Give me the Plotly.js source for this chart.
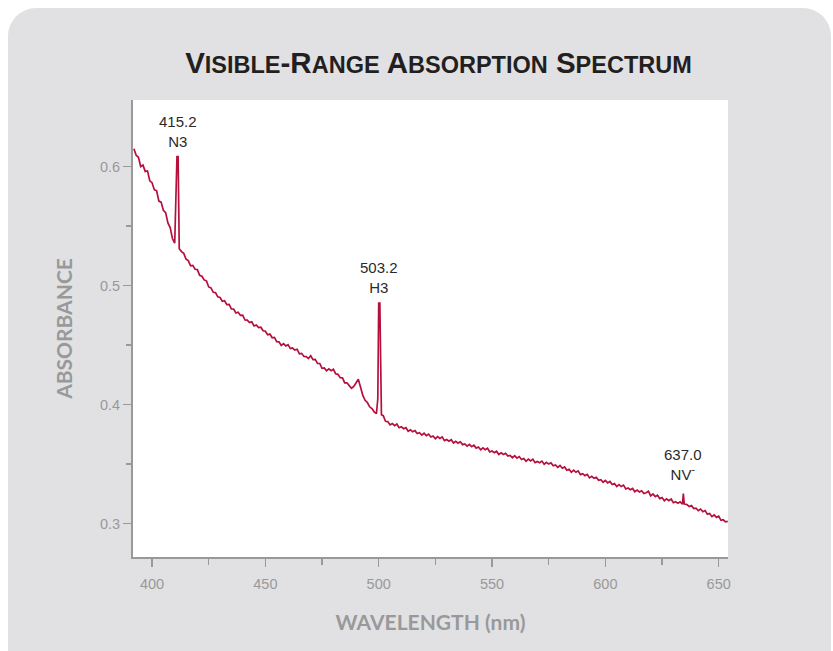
<!DOCTYPE html>
<html>
<head>
<meta charset="utf-8">
<script src="https://cdn.plot.ly/plotly-3.0.1.min.js"></script>
<style>
  html, body { margin: 0; padding: 0; background: #ffffff; overflow: hidden; }
  #card { position: absolute; left: 8px; top: 8px; width: 823px; height: 700px; background: #e1e1e3; border-radius: 28px; }
  #chart { position: absolute; left: 0; top: 0; width: 833px; height: 651px; }
</style>
</head>
<body>
<div id="card"></div>
<div id="chart"></div>
<script>
// Wavelength (nm) as drawn on the chart axis
const wavelength = [
  392,393,394,395,396,397,398,399,400,401,
  402,403,404,405,406,407,408,409,410,411.0,
  411.5,412,413,414,415,416,417,418,419,420,
  421,422,423,424,425,426,427,428,429,430,
  431,432,433,434,435,436,437,438,439,440,
  441,442,443,444,445,446,447,448,449,450,
  451,452,453,454,455,456,457,458,459,460,
  461,462,463,464,465,466,467,468,469,470,
  471,472,473,474,475,476,477,478,479,480,
  481,482,483,484,485,486,487,488,489,490,
  491,492,493,494,495,496,497,498,499,499.6,
  500.0,500.5,501.2,502,503,504,505,506,507,508,
  509,510,511,512,513,514,515,516,517,518,
  519,520,521,522,523,524,525,526,527,528,
  529,530,531,532,533,534,535,536,537,538,
  539,540,541,542,543,544,545,546,547,548,
  549,550,551,552,553,554,555,556,557,558,
  559,560,561,562,563,564,565,566,567,568,
  569,570,571,572,573,574,575,576,577,578,
  579,580,581,582,583,584,585,586,587,588,
  589,590,591,592,593,594,595,596,597,598,
  599,600,601,602,603,604,605,606,607,608,
  609,610,611,612,613,614,615,616,617,618,
  619,620,621,622,623,624,625,626,627,628,
  629,630,631,632,633,634,634.4,634.8,636,637,
  638,639,640,641,642,643,644,645,646,647,
  648,649,650,651,652,653,654
];

// Absorbance
const absorbance = [
  0.6150,0.6095,0.6079,0.6001,0.6013,0.5960,0.5964,0.5881,0.5865,0.5806,
  0.5798,0.5711,0.5702,0.5633,0.5614,0.5527,0.5488,0.5396,0.5357,0.6084,
  0.6084,0.5310,0.5286,0.5271,0.5223,0.5210,0.5167,0.5170,0.5138,0.5135,
  0.5087,0.5079,0.5048,0.5040,0.4989,0.4981,0.4944,0.4942,0.4906,0.4901,
  0.4869,0.4873,0.4841,0.4842,0.4805,0.4804,0.4770,0.4776,0.4750,0.4752,
  0.4711,0.4710,0.4690,0.4696,0.4661,0.4669,0.4648,0.4651,0.4621,0.4617,
  0.4587,0.4593,0.4562,0.4565,0.4529,0.4528,0.4498,0.4513,0.4494,0.4504,
  0.4471,0.4476,0.4459,0.4466,0.4427,0.4431,0.4405,0.4404,0.4387,0.4411,
  0.4379,0.4381,0.4347,0.4346,0.4306,0.4309,0.4284,0.4301,0.4285,0.4297,
  0.4260,0.4255,0.4227,0.4225,0.4183,0.4184,0.4160,0.4138,0.4153,0.4180,
  0.4214,0.4146,0.4078,0.4037,0.4018,0.3982,0.3967,0.3940,0.3924,0.4050,
  0.4853,0.4853,0.3915,0.3907,0.3860,0.3858,0.3830,0.3842,0.3824,0.3837,
  0.3806,0.3814,0.3798,0.3807,0.3777,0.3789,0.3772,0.3782,0.3758,0.3764,
  0.3744,0.3760,0.3740,0.3753,0.3728,0.3737,0.3714,0.3731,0.3716,0.3729,
  0.3698,0.3707,0.3693,0.3705,0.3678,0.3692,0.3677,0.3688,0.3664,0.3670,
  0.3651,0.3667,0.3647,0.3660,0.3635,0.3644,0.3620,0.3637,0.3621,0.3634,
  0.3603,0.3611,0.3597,0.3609,0.3581,0.3595,0.3581,0.3591,0.3568,0.3574,
  0.3554,0.3571,0.3551,0.3564,0.3539,0.3548,0.3524,0.3542,0.3527,0.3542,
  0.3513,0.3523,0.3512,0.3526,0.3500,0.3516,0.3501,0.3511,0.3487,0.3493,
  0.3473,0.3489,0.3466,0.3477,0.3449,0.3457,0.3432,0.3449,0.3432,0.3444,
  0.3412,0.3420,0.3404,0.3415,0.3385,0.3398,0.3381,0.3390,0.3364,0.3369,
  0.3348,0.3364,0.3343,0.3355,0.3329,0.3337,0.3312,0.3329,0.3312,0.3324,
  0.3292,0.3300,0.3285,0.3296,0.3268,0.3282,0.3267,0.3277,0.3254,0.3260,
  0.3272,0.3234,0.3249,0.3227,0.3239,0.3211,0.3219,0.3193,0.3209,0.3193,
  0.3207,0.3176,0.3184,0.3171,0.3183,0.3163,0.3252,0.3165,0.3161,0.3144,
  0.3152,0.3127,0.3131,0.3109,0.3123,0.3100,0.3110,0.3080,0.3086,0.3059,
  0.3073,0.3053,0.3063,0.3028,0.3033,0.3016,0.3020
];

// Peak labels
const peakLabels = ['415.2<br>N3', '503.2<br>H3', '637.0<br>NV<sup>-</sup>'];
const peakX = [411.25, 500.25, 634.4];
const peakY = [0.6084, 0.4853, 0.3252];

// Axis ticks
const xTicks = [400, 450, 500, 550, 600, 650];
const xMinorTicks = [425, 475, 525, 575, 625];
const yTicks = [0.3, 0.4, 0.5, 0.6];
const yMinorTicks = [0.35, 0.45, 0.55];

const sc = s => '<span style="font-size:23.5px">' + s + '</span>';
const titleText = 'V' + sc('ISIBLE') + '-R' + sc('ANGE') + ' A' + sc('BSORPTION') + ' S' + sc('PECTRUM');

const trace = {
  x: wavelength,
  y: absorbance,
  type: 'scatter',
  mode: 'lines',
  line: { color: '#b5103c', width: 1.7 },
  hoverinfo: 'skip'
};

const labelShift = [5, 5, 9];
const annotations = peakLabels.map((t, i) => ({
  x: peakX[i], y: peakY[i], xref: 'x', yref: 'y',
  text: t, showarrow: false, xanchor: 'center', yanchor: 'bottom', yshift: labelShift[i],
  font: { family: 'Liberation Sans, Arial, sans-serif', size: 15, color: '#2a2a2a' }
}));

const layout = {
  width: 833, height: 651,
  paper_bgcolor: 'rgba(0,0,0,0)',
  plot_bgcolor: '#ffffff',
  margin: { l: 133, r: 105, t: 100, b: 94 },
  showlegend: false,
  title: {
    text: titleText,
    x: 0.5134, xanchor: 'center', xref: 'paper',
    y: 1 - 63 / 651, yanchor: 'middle',
    font: { family: 'Liberation Sans, Arial, sans-serif', size: 29.5, color: '#231f20', weight: 'bold' }
  },
  xaxis: {
    range: [391.6, 654.1],
    tickvals: xTicks,
    ticks: 'outside', ticklen: 8, tickwidth: 1.5, tickcolor: '#999999',
    ticklabelstandoff: 5,
    minor: { tickvals: xMinorTicks, ticks: 'outside', ticklen: 6, tickwidth: 1.5, tickcolor: '#999999', showgrid: false },
    showline: true, linecolor: '#999999', linewidth: 2,
    showgrid: false, zeroline: false,
    tickfont: { family: 'Liberation Sans, Arial, sans-serif', size: 14.5, color: '#999999' },
    title: { text: 'WAVELENGTH (nm)', standoff: 24,
      font: { family: 'Lato, sans-serif', size: 21, color: '#999999', weight: 'bold' } }
  },
  yaxis: {
    range: [0.272, 0.656],
    tickvals: yTicks, tickformat: '.1f',
    ticks: 'outside', ticklen: 8, tickwidth: 1.5, tickcolor: '#999999',
    minor: { tickvals: yMinorTicks, ticks: 'outside', ticklen: 5, tickwidth: 1.5, tickcolor: '#999999', showgrid: false },
    showline: true, linecolor: '#999999', linewidth: 2,
    showgrid: false, zeroline: false,
    tickfont: { family: 'Liberation Sans, Arial, sans-serif', size: 14.5, color: '#999999' },
    title: { text: 'ABSORBANCE', standoff: 22,
      font: { family: 'Lato, sans-serif', size: 21, color: '#999999', weight: 'bold' } }
  },
  annotations: annotations
};

Plotly.newPlot('chart', [trace], layout, { staticPlot: true, displayModeBar: false });
</script>
</body>
</html>
